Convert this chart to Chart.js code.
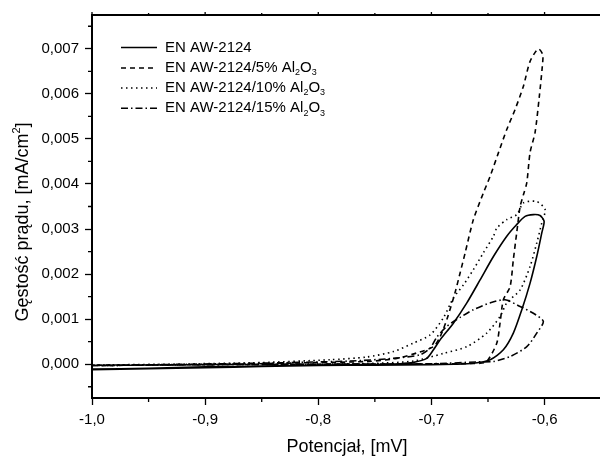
<!DOCTYPE html>
<html>
<head>
<meta charset="utf-8">
<script src="https://cdn.jsdelivr.net/npm/chart.js@4/dist/chart.umd.min.js"></script>
<style>
html,body{margin:0;padding:0;background:#fff;}
canvas{display:block;}
</style>
</head>
<body>
<canvas id="c" width="600" height="457"></canvas>
<script>
// ---- Data (potential [mV], current density [mA/cm2]) ----
const seriesNames = ["EN AW-2124", "EN AW-2124/5% Al2O3", "EN AW-2124/10% Al2O3", "EN AW-2124/15% Al2O3"];

const s0x = [-1.0, -0.95, -0.9, -0.85, -0.8, -0.75, -0.7, -0.68, -0.6629, -0.6481, -0.6364, -0.6276, -0.6201, -0.6128, -0.6069, -0.6025, -0.6004, -0.6040, -0.6099, -0.6172, -0.6246, -0.6334, -0.6452, -0.6570, -0.6687, -0.6806, -0.6923, -0.6982, -0.7041, -0.7159, -0.7277, -0.76, -0.8, -0.85, -0.9, -0.95, -1.0];
const s0y = [-0.00012, -0.0001, -0.00008, -0.00005, -0.00003, -0.00002, -0.00001, 0.0, 0.00002, 0.00010, 0.00032, 0.00069, 0.00121, 0.00180, 0.00239, 0.00291, 0.00317, 0.00330, 0.00332, 0.00328, 0.00310, 0.00284, 0.00239, 0.00187, 0.00136, 0.00091, 0.00054, 0.00032, 0.00013, 0.00004, 0.00001, -0.00001, -0.00002, -0.00004, -0.00006, -0.00009, -0.00011];

const s1x = [-1.0, -0.9, -0.8, -0.7, -0.657, -0.651, -0.6422, -0.6393, -0.6364, -0.6305, -0.6276, -0.6246, -0.6216, -0.6187, -0.6157, -0.6128, -0.6084, -0.6046, -0.6020, -0.6016, -0.6055, -0.6128, -0.6187, -0.6261, -0.6334, -0.6408, -0.6481, -0.6541, -0.6629, -0.6702, -0.6746, -0.6791, -0.6864, -0.6923, -0.6982, -0.7129, -0.7306, -0.7571, -0.816, -0.9, -1.0];
const s1y = [-0.00003, -0.00001, 0.0, 0.00001, 0.00002, 0.00006, 0.00047, 0.00092, 0.00143, 0.00172, 0.00232, 0.00292, 0.00350, 0.00376, 0.00403, 0.00470, 0.00514, 0.00595, 0.00661, 0.00687, 0.00700, 0.00672, 0.00617, 0.00565, 0.00521, 0.00469, 0.00417, 0.00380, 0.00321, 0.00247, 0.00203, 0.00159, 0.00099, 0.00061, 0.00039, 0.00025, 0.00013, 0.00006, 0.00003, -0.00001, -0.00002];

const s2x = [-1.0, -0.9, -0.8, -0.75, -0.7159, -0.6894, -0.6687, -0.6511, -0.6393, -0.6334, -0.6216, -0.6128, -0.6069, -0.6025, -0.5995, -0.6069, -0.6187, -0.6246, -0.6334, -0.6422, -0.6452, -0.6541, -0.6629, -0.6717, -0.6806, -0.6894, -0.7011, -0.7159, -0.7336, -0.7571, -0.7895, -0.86, -1.0];
const s2y = [-0.00003, -0.00001, 0.0, 0.00002, 0.00007, 0.00024, 0.00039, 0.00069, 0.00106, 0.00136, 0.00165, 0.00217, 0.00269, 0.00313, 0.00343, 0.00361, 0.00358, 0.00332, 0.00321, 0.00302, 0.00284, 0.00247, 0.00210, 0.00176, 0.00147, 0.00103, 0.00065, 0.00047, 0.00028, 0.00016, 0.00010, 0.00003, -0.00002];

const s3x = [-1.0, -0.9, -0.8, -0.7, -0.6599, -0.6452, -0.6305, -0.6157, -0.6069, -0.6011, -0.6099, -0.6216, -0.6349, -0.6481, -0.6629, -0.6746, -0.6864, -0.6952, -0.7011, -0.7100, -0.7338, -0.7718, -0.86, -1.0];
const s3y = [-0.00003, -0.00001, 0.0, 0.00001, 0.00005, 0.00006, 0.00017, 0.00039, 0.00069, 0.00095, 0.00113, 0.00128, 0.00143, 0.00136, 0.00121, 0.00104, 0.00084, 0.00060, 0.00036, 0.00021, 0.00013, 0.00007, 0.00002, -0.00003];

const xTicks = [-1.0, -0.95, -0.9, -0.85, -0.8, -0.75, -0.7, -0.65, -0.6];
const yTicks = [-0.0005, 0.0, 0.0005, 0.001, 0.0015, 0.002, 0.0025, 0.003, 0.0035, 0.004, 0.0045, 0.005, 0.0055, 0.006, 0.0065, 0.007, 0.0075];

const dashes = [[], [5, 4], [1.5, 3.5], [7, 3, 1.5, 3]];
const FONT = "'Liberation Sans', Arial, sans-serif";

function pts(xs, ys) { return xs.map((x, i) => ({ x: x, y: ys[i] })); }
function isMajorX(v) { return Math.abs(v * 10 - Math.round(v * 10)) < 1e-6; }
function isMajorY(v) { return Math.abs(v * 1000 - Math.round(v * 1000)) < 1e-6; }

const allX = [s0x, s1x, s2x, s3x];
const allY = [s0y, s1y, s2y, s3y];
const datasets = allX.map((xs, i) => ({
  label: seriesNames[i],
  data: pts(xs, allY[i]),
  showLine: true,
  borderColor: '#000',
  backgroundColor: '#000',
  borderWidth: 1.6,
  borderDash: dashes[i],
  pointRadius: 0,
  tension: 0.25,
  fill: false
}));

// Draw text with subscripts "Al2O3"
function drawRich(ctx, text, x, y, size) {
  const parts = [];
  const m = text.match(/^(.*)Al2O3$/);
  if (m) {
    parts.push([m[1] + 'Al', false], ['2', true], ['O', false], ['3', true]);
  } else parts.push([text, false]);
  let cx = x;
  for (const [t, sub] of parts) {
    ctx.font = (sub ? Math.round(size * 0.62) : size) + 'px ' + FONT;
    ctx.fillText(t, cx, sub ? y + size * 0.32 : y);
    cx += ctx.measureText(t).width;
  }
}

const decor = {
  id: 'decor',
  afterDraw(chart) {
    const ctx = chart.ctx;
    const a = chart.chartArea;
    const xs = chart.scales.x, ys = chart.scales.y;
    ctx.save();
    ctx.strokeStyle = '#000';
    // top border
    ctx.lineWidth = 2;
    ctx.beginPath();
    ctx.moveTo(a.left - 1, a.top);
    ctx.lineTo(a.right, a.top);
    ctx.stroke();
    // minor ticks
    ctx.lineWidth = 1.3;
    ctx.beginPath();
    xTicks.forEach(v => {
      const p = xs.getPixelForValue(v);
      if (!isMajorX(v)) { ctx.moveTo(p, a.bottom); ctx.lineTo(p, a.bottom + 4); }
      ctx.moveTo(p, a.top); ctx.lineTo(p, a.top - (isMajorX(v) ? 3 : 2));
    });
    yTicks.forEach(v => {
      const p = ys.getPixelForValue(v);
      if (!isMajorY(v)) { ctx.moveTo(a.left, p); ctx.lineTo(a.left - 4, p); }
    });
    ctx.stroke();

    // legend
    ctx.fillStyle = '#000';
    ctx.textBaseline = 'middle';
    ctx.textAlign = 'left';
    const rowsY = [47.5, 68, 88, 108.3];
    chart.data.datasets.forEach((ds, i) => {
      const y = rowsY[i];
      ctx.lineWidth = 1.5;
      ctx.setLineDash(ds.borderDash);
      ctx.beginPath();
      ctx.moveTo(121, y);
      ctx.lineTo(157, y);
      ctx.stroke();
      ctx.setLineDash([]);
      drawRich(ctx, ds.label, 165, y, 15);
    });

    // axis titles
    ctx.textAlign = 'center';
    ctx.textBaseline = 'alphabetic';
    ctx.font = '18px ' + FONT;
    ctx.fillText('Potencjał, [mV]', (a.left + a.right) / 2 + 1, 452);

    ctx.save();
    ctx.translate(28, 222);
    ctx.rotate(-Math.PI / 2);
    const main = 'Gęstość prądu, [mA/cm';
    const sup = '2';
    const end = ']';
    ctx.font = '18px ' + FONT;
    const w1 = ctx.measureText(main).width;
    const w3 = ctx.measureText(end).width;
    ctx.font = '11px ' + FONT;
    const w2 = ctx.measureText(sup).width;
    const total = w1 + w2 + w3;
    ctx.textAlign = 'left';
    let cx = -total / 2;
    ctx.font = '18px ' + FONT;
    ctx.fillText(main, cx, 0); cx += w1;
    ctx.font = '11px ' + FONT;
    ctx.fillText(sup, cx, -8); cx += w2;
    ctx.font = '18px ' + FONT;
    ctx.fillText(end, cx, 0);
    ctx.restore();
    ctx.restore();
  }
};

new Chart(document.getElementById('c'), {
  type: 'scatter',
  data: { datasets: datasets },
  options: {
    responsive: false,
    animation: false,
    devicePixelRatio: 1,
    layout: { padding: { left: 0, right: 0, top: 15, bottom: 0 } },
    plugins: { legend: { display: false }, tooltip: { enabled: false }, title: { display: false } },
    scales: {
      x: {
        type: 'linear',
        min: -1.0,
        max: -0.551,
        afterBuildTicks(scale) { scale.ticks = xTicks.map(v => ({ value: v })); },
        afterFit(scale) { scale.height = 59; },
        ticks: {
          autoSkip: false, maxRotation: 0, padding: 6, color: '#000',
          font: { family: FONT, size: 15 },
          callback: v => isMajorX(v) ? v.toFixed(1).replace('.', ',') : ''
        },
        grid: {
          drawOnChartArea: false, tickLength: 7, tickWidth: 1.3,
          tickColor: c => (c.tick && isMajorX(c.tick.value)) ? '#000' : 'rgba(0,0,0,0)'
        },
        border: { color: '#000', width: 2 }
      },
      y: {
        type: 'linear',
        min: -0.00075,
        max: 0.00775,
        afterBuildTicks(scale) { scale.ticks = yTicks.map(v => ({ value: v })); },
        afterFit(scale) { scale.width = 92; },
        ticks: {
          autoSkip: false, padding: 6, color: '#000',
          font: { family: FONT, size: 15 },
          callback: v => isMajorY(v) ? v.toFixed(3).replace('.', ',') : ''
        },
        grid: {
          drawOnChartArea: false, tickLength: 7, tickWidth: 1.3,
          tickColor: c => (c.tick && isMajorY(c.tick.value)) ? '#000' : 'rgba(0,0,0,0)'
        },
        border: { color: '#000', width: 2 }
      }
    }
  },
  plugins: [decor]
});
</script>
</body>
</html>
